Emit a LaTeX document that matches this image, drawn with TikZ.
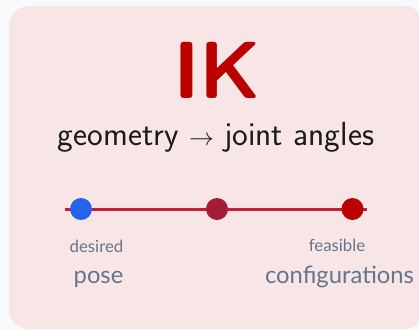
\documentclass[tikz,border=0pt]{standalone}
\usepackage{fontspec}
\newfontfamily\latofont{Lato}
\definecolor{bgc}{HTML}{F8F9FB}
\definecolor{boxc}{HTML}{F8E6E7}
\definecolor{ikred}{HTML}{BB0000}
\definecolor{linec}{HTML}{C41E3A}
\definecolor{dotblue}{HTML}{2563EB}
\definecolor{dotmid}{HTML}{A51C36}
\definecolor{dotred}{HTML}{BB0000}
\definecolor{labc}{HTML}{66758C}
\definecolor{subc}{HTML}{1A1A1A}
\begin{document}
\begin{tikzpicture}[x=1pt,y=-1pt,
  dotnode/.style={circle, inner sep=0pt, minimum size=22pt},
  smalllab/.style={anchor=base, inner sep=0pt, text=labc, font=\latofont\fontsize{16.8}{16.8}\selectfont},
  biglab/.style={anchor=base, inner sep=0pt, text=labc, font=\latofont\fontsize{23.8}{23.8}\selectfont},
  track/.style={draw=linec, line width=3pt}]
\useasboundingbox (0,0) rectangle (419,330);
\fill[bgc] (0,0) rectangle (419,330);
\fill[boxc, rounded corners=20pt] (9,6) rectangle (424,329);
\node[anchor=base, inner sep=0pt, text=ikred, font=\sffamily\bfseries\fontsize{81}{81}\selectfont] (title) at (217.5,98) {IK};
\node[anchor=base, inner sep=0pt, text=subc, font=\sffamily\fontsize{33.4}{33.4}\selectfont] (sub) at (216,145) {geometry $\to$ joint angles};
\coordinate (ls) at (65,209);
\coordinate (le) at (367,209);
\draw[track] (ls) -- (le);
\node[dotnode, fill=dotblue] (d1) at (81,209) {};
\node[dotnode, fill=dotmid] (d2) at (217,209) {};
\node[dotnode, fill=dotred] (d3) at (352.5,209) {};
\node[smalllab] (desired) at (96.5,252) {desired};
\node[biglab] (pose) at (98.5,283) {pose};
\node[smalllab] (feasible) at (337,251.5) {feasible};
\node[biglab] (configs) at (339.5,283) {configurations};
\end{tikzpicture}
\end{document}
